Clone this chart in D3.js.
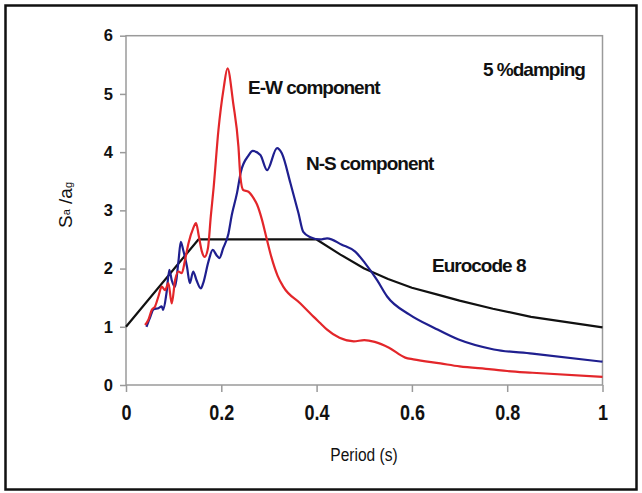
<!DOCTYPE html>
<html>
<head>
<meta charset="utf-8">
<script src="https://cdn.jsdelivr.net/npm/d3@7"></script>
<style>
  html, body { margin: 0; padding: 0; background: #fff; }
  svg { display: block; }
  text { font-family: "Liberation Sans", Arial, sans-serif; fill: #111; }
</style>
</head>
<body>
<svg id="chart" width="642" height="493"></svg>
<script>
// ---- data ----
const xTicks = [0, 0.2, 0.4, 0.6, 0.8, 1];
const xTickLabels = ["0", "0.2", "0.4", "0.6", "0.8", "1"];
const yTicks = [0, 1, 2, 3, 4, 5, 6];
const yTickLabels = ["0", "1", "2", "3", "4", "5", "6"];

// E-W component (red)
const ewPeriod = [0.040, 0.047, 0.054, 0.061, 0.068, 0.075, 0.082, 0.089, 0.096, 0.103,
  0.110, 0.117, 0.124, 0.131, 0.141, 0.147, 0.153, 0.159, 0.165, 0.172, 0.178, 0.184,
  0.194, 0.205, 0.213, 0.225, 0.236, 0.240, 0.246, 0.257, 0.267, 0.275, 0.285, 0.295,
  0.305, 0.318, 0.330, 0.366, 0.394, 0.408, 0.422, 0.448, 0.478, 0.500, 0.522, 0.552,
  0.586, 0.603, 0.660, 0.700, 0.767, 0.800, 0.853, 1.000];
const ewSa = [1.03, 1.12, 1.29, 1.35, 1.52, 1.69, 1.63, 1.75, 1.40, 1.80,
  1.95, 1.92, 2.15, 2.43, 2.69, 2.78, 2.55, 2.30, 2.20, 2.35, 2.90, 3.40,
  4.38, 5.10, 5.44, 4.84, 4.09, 3.58, 3.35, 3.32, 3.22, 3.10, 2.85, 2.52,
  2.20, 1.88, 1.69, 1.40, 1.17, 1.06, 0.95, 0.81, 0.75, 0.77, 0.74, 0.64,
  0.47, 0.44, 0.37, 0.32, 0.27, 0.24, 0.21, 0.14];

// N-S component (blue)
const nsPeriod = [0.043, 0.050, 0.058, 0.068, 0.075, 0.078, 0.085, 0.091, 0.096, 0.103,
  0.110, 0.115, 0.120, 0.128, 0.134, 0.141, 0.148, 0.157, 0.162, 0.173, 0.182, 0.190,
  0.196, 0.204, 0.215, 0.222, 0.233, 0.241, 0.257, 0.266, 0.282, 0.296, 0.317, 0.327,
  0.345, 0.362, 0.372, 0.387, 0.408, 0.422, 0.453, 0.481, 0.502, 0.527, 0.548, 0.595,
  0.647, 0.698, 0.772, 0.853, 1.000];
const nsSa = [1.00, 1.15, 1.30, 1.32, 1.35, 1.29, 1.58, 1.98, 1.80, 1.69,
  2.12, 2.46, 2.32, 2.03, 1.75, 1.95, 1.80, 1.66, 1.75, 2.12, 2.32, 2.23,
  2.18, 2.35, 2.60, 2.92, 3.30, 3.66, 3.94, 4.02, 3.95, 3.69, 4.07, 3.98,
  3.47, 2.95, 2.63, 2.54, 2.50, 2.52, 2.41, 2.29, 2.09, 1.80, 1.52, 1.21,
  0.98, 0.78, 0.61, 0.54, 0.40];

// Eurocode 8 design spectrum (black)
const ec8Period = [0, 0.152, 0.40, 0.45, 0.50, 0.55, 0.60, 0.65, 0.70, 0.77, 0.85, 1.00];
const ec8Sa = [1.00, 2.50, 2.50, 2.24, 2.00, 1.82, 1.67, 1.56, 1.45, 1.31, 1.17, 0.99];

const seriesNames = ["E-W component", "N-S component", "Eurocode 8"];
const seriesColors = ["#e3262a", "#1f1f8f", "#111111"];

// ---- layout ----
const svg = d3.select("#chart");
const plot = { left: 126, right: 602.5, top: 35.7, bottom: 385 };

const x = d3.scaleLinear().domain([0, 1]).range([plot.left, plot.right]);
const y = d3.scaleLinear().domain([0, 6]).range([plot.bottom, plot.top]);

// outer border
svg.append("rect")
  .attr("x", 5.5).attr("y", 5.5)
  .attr("width", 631).attr("height", 484)
  .attr("fill", "none").attr("stroke", "#111").attr("stroke-width", 2.5);

// plot frame
svg.append("rect")
  .attr("x", plot.left).attr("y", plot.top)
  .attr("width", plot.right - plot.left).attr("height", plot.bottom - plot.top)
  .attr("fill", "none").attr("stroke", "#9a9a9a").attr("stroke-width", 1.5);

// axes
const xAxis = d3.axisBottom(x).tickValues(xTicks)
  .tickFormat((d, i) => xTickLabels[i]).tickSize(7).tickSizeOuter(0).tickPadding(12);
const gx = svg.append("g").attr("transform", `translate(0,${plot.bottom})`).call(xAxis);
gx.select(".domain").remove();
gx.selectAll(".tick line").attr("stroke", "#9a9a9a").attr("stroke-width", 1.5);
gx.selectAll(".tick text")
  .attr("fill", "#111")
  .style("font-size", "22.5px").style("font-weight", "bold")
  .attr("dy", "0.71em")
  .attr("transform", "scale(0.8,1)");

const yAxis = d3.axisLeft(y).tickValues(yTicks)
  .tickFormat((d, i) => yTickLabels[i]).tickSize(6).tickSizeOuter(0).tickPadding(7);
const gy = svg.append("g").attr("transform", `translate(${plot.left},0)`).call(yAxis);
gy.select(".domain").remove();
gy.selectAll(".tick line").attr("stroke", "#9a9a9a").attr("stroke-width", 1.5);
gy.selectAll(".tick text")
  .attr("fill", "#111")
  .style("font-size", "16.5px").style("font-weight", "bold");

// lines
const line = d3.line().x(d => x(d[0])).y(d => y(d[1])).curve(d3.curveMonotoneX);
const ec8Line = d3.line().x(d => x(d[0])).y(d => y(d[1])).curve(d3.curveLinear);

const ewData = ewPeriod.map((t, i) => [t, ewSa[i]]);
const nsData = nsPeriod.map((t, i) => [t, nsSa[i]]);
const ec8Data = ec8Period.map((t, i) => [t, ec8Sa[i]]);

svg.append("path").datum(ec8Data).attr("d", ec8Line)
  .attr("fill", "none").attr("stroke", seriesColors[2]).attr("stroke-width", 2.2)
  .attr("stroke-linejoin", "round");
svg.append("path").datum(nsData).attr("d", line)
  .attr("fill", "none").attr("stroke", seriesColors[1]).attr("stroke-width", 2.2)
  .attr("stroke-linejoin", "round");
svg.append("path").datum(ewData).attr("d", line)
  .attr("fill", "none").attr("stroke", seriesColors[0]).attr("stroke-width", 2.2)
  .attr("stroke-linejoin", "round");

// annotations
const ann = [
  { text: seriesNames[0], x: 248, y: 94 },
  { text: seriesNames[1], x: 306, y: 169.5 },
  { text: seriesNames[2], x: 432, y: 272 },
  { text: "5 %damping", x: 483, y: 76 }
];
svg.selectAll("text.ann").data(ann).join("text")
  .attr("class", "ann")
  .attr("x", d => d.x).attr("y", d => d.y)
  .style("font-size", "19px").style("font-weight", "bold")
  .style("letter-spacing", "-1px")
  .text(d => d.text);

// x axis title
svg.append("text")
  .attr("transform", "translate(364,461) scale(0.84,1)")
  .attr("text-anchor", "middle")
  .style("font-size", "18.5px")
  .text("Period (s)");

// y axis title
const yt = svg.append("text")
  .attr("transform", "translate(72,205) rotate(-90)")
  .attr("text-anchor", "middle")
  .style("font-size", "19px");
yt.append("tspan").text("S");
yt.append("tspan").style("font-size", "11px").attr("dy", "-2").text("a");
yt.append("tspan").attr("dy", "2").text(" /a");
yt.append("tspan").style("font-size", "11px").text("g");
</script>
</body>
</html>
